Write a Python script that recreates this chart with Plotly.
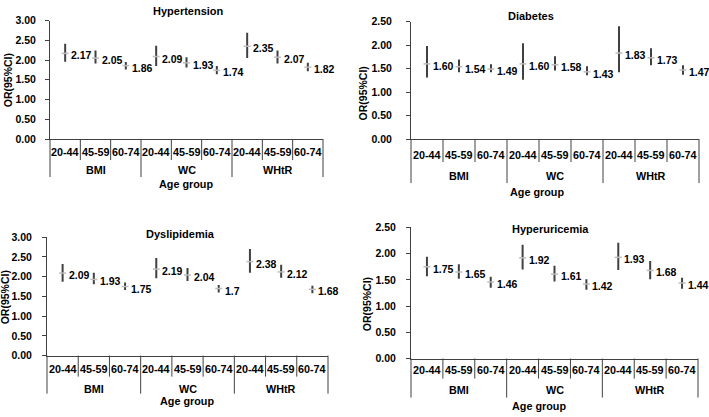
import plotly.graph_objects as go

# ---------------- data ----------------
GROUPS = ["BMI", "WC", "WHtR"]
AGES = ["20-44", "45-59", "60-74"]
TITLES = ["Hypertension", "Diabetes", "Dyslipidemia", "Hyperuricemia"]
X_TITLE = "Age group"
Y_TITLE = "OR(95%CI)"

HT_OR = [2.17, 2.05, 1.86, 2.09, 1.93, 1.74, 2.35, 2.07, 1.82]
HT_LO = [1.96, 1.91, 1.76, 1.85, 1.81, 1.64, 2.05, 1.91, 1.72]
HT_HI = [2.41, 2.24, 1.95, 2.36, 2.07, 1.85, 2.69, 2.24, 1.93]
HT_LBL = ["2.17", "2.05", "1.86", "2.09", "1.93", "1.74", "2.35", "2.07", "1.82"]

DM_OR = [1.60, 1.54, 1.49, 1.60, 1.58, 1.43, 1.83, 1.73, 1.47]
DM_LO = [1.31, 1.42, 1.42, 1.26, 1.46, 1.36, 1.42, 1.57, 1.37]
DM_HI = [1.98, 1.69, 1.59, 2.04, 1.76, 1.55, 2.40, 1.93, 1.57]
DM_LBL = ["1.60", "1.54", "1.49", "1.60", "1.58", "1.43", "1.83", "1.73", "1.47"]

DL_OR = [2.09, 1.93, 1.75, 2.19, 2.04, 1.70, 2.38, 2.12, 1.68]
DL_LO = [1.87, 1.81, 1.66, 1.96, 1.89, 1.60, 2.10, 1.97, 1.58]
DL_HI = [2.32, 2.10, 1.85, 2.47, 2.22, 1.79, 2.70, 2.30, 1.77]
DL_LBL = ["2.09", "1.93", "1.75", "2.19", "2.04", "1.7", "2.38", "2.12", "1.68"]

HU_OR = [1.75, 1.65, 1.46, 1.92, 1.61, 1.42, 1.93, 1.68, 1.44]
HU_LO = [1.57, 1.52, 1.35, 1.70, 1.47, 1.31, 1.69, 1.51, 1.33]
HU_HI = [1.94, 1.80, 1.56, 2.17, 1.77, 1.51, 2.21, 1.86, 1.54]
HU_LBL = ["1.75", "1.65", "1.46", "1.92", "1.61", "1.42", "1.93", "1.68", "1.44"]

Y_MAX = [3.0, 2.5, 3.0, 2.5]

SERIES = [
    (HT_OR, HT_LO, HT_HI, HT_LBL),
    (DM_OR, DM_LO, DM_HI, DM_LBL),
    (DL_OR, DL_LO, DL_HI, DL_LBL),
    (HU_OR, HU_LO, HU_HI, HU_LBL),
]

# ---------------- layout / style (pixel positions) ----------------
W, H = 709, 417
STYLE = [
    dict(x=(50, 323), y=(15, 137), title=(189, 5), ytitle=(7.5, 77), xtitle=(186, 183),
         lab=13, grp=31, inner=21, glen=38, standoff=7),
    dict(x=(411, 699), y=(16, 137), title=(531, 10), ytitle=(363, 90), xtitle=(537, 192),
         lab=16, grp=37, inner=23, glen=44, standoff=12),
    dict(x=(47, 328), y=(238, 360), title=(180, 235), ytitle=(5, 300), xtitle=(187, 407),
         lab=13, grp=33, inner=21, glen=38, standoff=8),
    dict(x=(411, 698), y=(228, 363), title=(550, 230), ytitle=(367, 307), xtitle=(539, 412),
         lab=11, grp=31, inner=20, glen=39, standoff=8),
]

FONT = "Liberation Sans, Arial, sans-serif"
TXT = "#000000"
AX = "#404040"
BAR = "#404040"
MARK = "#bdbdbd"

fig = go.Figure()
shapes = []
annotations = []

ncat = len(GROUPS) * len(AGES)
xs = list(range(ncat))

for p, (orv, lo, hi, lbl) in enumerate(SERIES):
    st = STYLE[p]
    sfx = "" if p == 0 else str(p + 1)
    xa, ya = "x" + sfx, "y" + sfx
    xaxis_key, yaxis_key = "xaxis" + sfx, "yaxis" + sfx

    fig.add_trace(go.Scatter(
        x=xs, y=orv, mode="markers", xaxis=xa, yaxis=ya, showlegend=False,
        marker=dict(symbol="line-ew", size=5, color=MARK, line=dict(color=MARK, width=1.5)),
        error_y=dict(type="data", symmetric=False,
                     array=[h - o for h, o in zip(hi, orv)],
                     arrayminus=[o - l for o, l in zip(orv, lo)],
                     width=0, thickness=2, color=BAR),
        cliponaxis=False, hoverinfo="skip",
    ))

    fig.layout[xaxis_key] = dict(
        domain=[st["x"][0] / W, st["x"][1] / W], anchor=ya,
        range=[-0.5, ncat - 0.5], showticklabels=False, ticks="",
        showline=True, linecolor=AX, linewidth=1, showgrid=False, zeroline=False,
    )
    fig.layout[yaxis_key] = dict(
        domain=[1 - st["y"][1] / H, 1 - st["y"][0] / H], anchor=xa,
        range=[0, Y_MAX[p]], dtick=0.5, tickformat=".2f",
        ticks="outside", ticklen=4, tickcolor=AX, ticklabelstandoff=st["standoff"],
        showline=True, linecolor=AX, linewidth=1, showgrid=False, zeroline=False,
        tickfont=dict(family=FONT, size=10.5, color=TXT, weight="bold"),
    )

    # value labels
    for i in range(ncat):
        annotations.append(dict(
            x=xs[i], y=orv[i], xref=xa, yref=ya, text=lbl[i], showarrow=False,
            xanchor="left", yanchor="middle", xshift=4, yshift=-2,
            font=dict(family=FONT, size=10.5, color=TXT, weight="bold"),
        ))

    xd = xa + " domain"
    yd = ya + " domain"
    # category dividers
    for k in range(ncat + 1):
        is_group = (k % len(AGES) == 0)
        length = st["glen"] if is_group else st["inner"]
        shapes.append(dict(
            type="line", xref=xd, yref=yd, x0=k / ncat, x1=k / ncat,
            ysizemode="pixel", yanchor=0, y0=0, y1=-length,
            line=dict(color=AX, width=1),
        ))
    # inner category labels
    for g in range(len(GROUPS)):
        for a in range(len(AGES)):
            k = g * len(AGES) + a
            annotations.append(dict(
                x=(k + 0.5) / ncat, y=0, xref=xd, yref=yd, text=AGES[a], showarrow=False,
                xanchor="center", yanchor="middle", yshift=-st["lab"],
                font=dict(family=FONT, size=10.8, color=TXT, weight="bold"),
            ))
        annotations.append(dict(
            x=(g * len(AGES) + len(AGES) / 2) / ncat, y=0, xref=xd, yref=yd,
            text=GROUPS[g], showarrow=False, xanchor="center", yanchor="middle",
            yshift=-st["grp"],
            font=dict(family=FONT, size=10.8, color=TXT, weight="bold"),
        ))

    # titles
    annotations.append(dict(
        x=st["title"][0] / W, y=1 - st["title"][1] / H, xref="paper", yref="paper",
        text=TITLES[p], showarrow=False, xanchor="center", yanchor="middle",
        font=dict(family=FONT, size=11, color=TXT, weight="bold"),
    ))
    annotations.append(dict(
        x=st["xtitle"][0] / W, y=1 - st["xtitle"][1] / H, xref="paper", yref="paper",
        text=X_TITLE, showarrow=False, xanchor="center", yanchor="middle",
        font=dict(family=FONT, size=10.8, color=TXT, weight="bold"),
    ))
    annotations.append(dict(
        x=st["ytitle"][0] / W, y=1 - st["ytitle"][1] / H, xref="paper", yref="paper",
        text=Y_TITLE, showarrow=False, xanchor="center", yanchor="middle", textangle=-90,
        font=dict(family=FONT, size=10.5, color=TXT, weight="bold"),
    ))

fig.update_layout(
    width=W, height=H, margin=dict(l=0, r=0, t=0, b=0),
    paper_bgcolor="white", plot_bgcolor="white",
    shapes=shapes, annotations=annotations, showlegend=False,
)

fig.write_html(
    "out.html",
    config={"displayModeBar": False},
    post_script="document.body.style.margin='0px';document.body.style.overflow='hidden';",
)
